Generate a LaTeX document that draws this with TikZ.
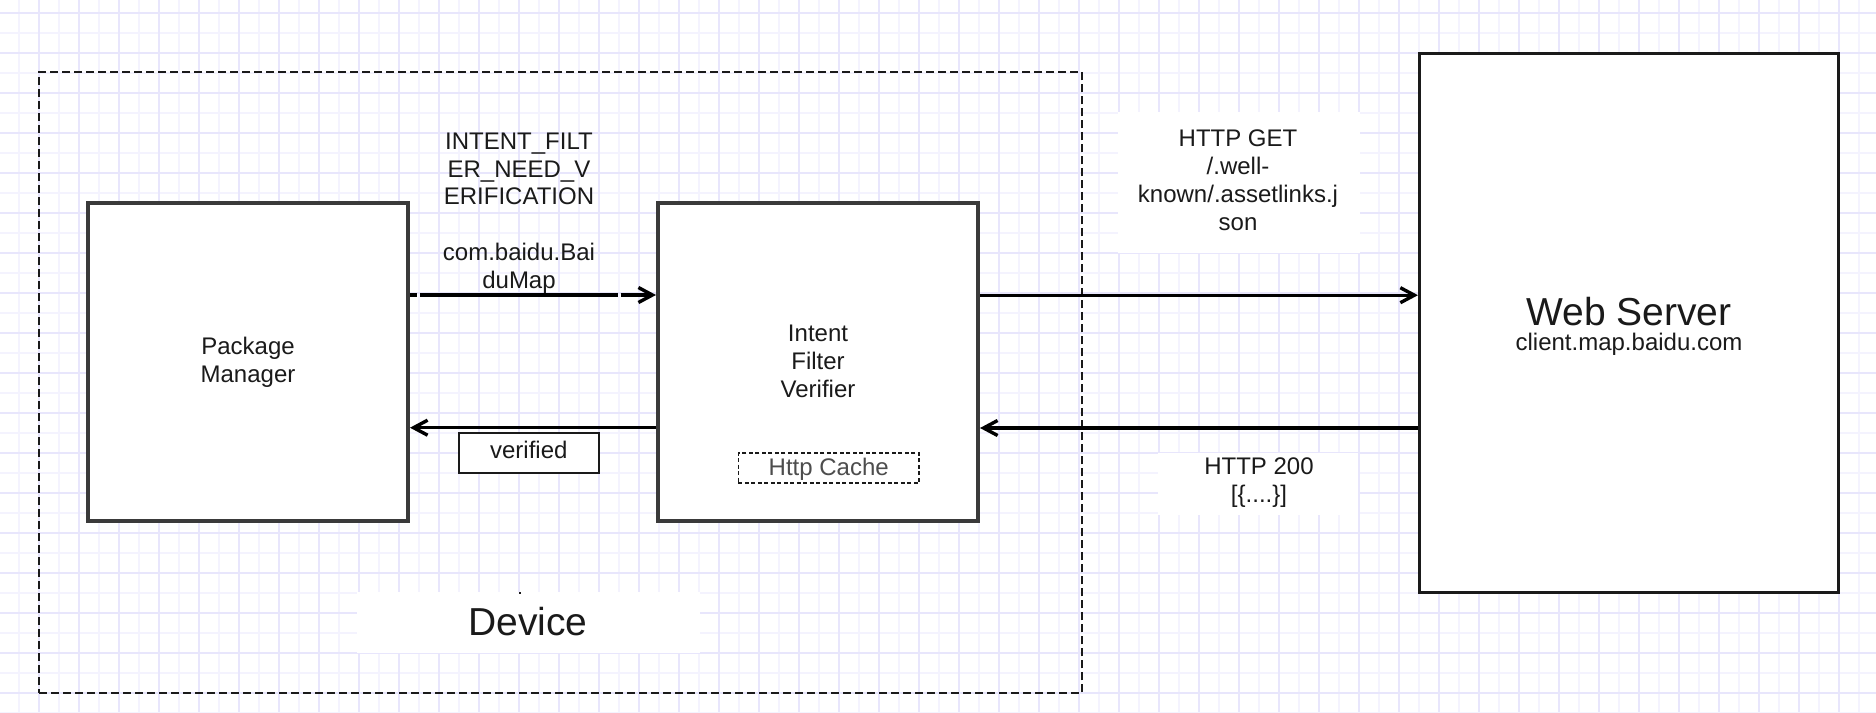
\documentclass[tikz,border=0pt]{standalone}
\usepackage{fontspec}
\setmainfont{Liberation Sans}
\usetikzlibrary{arrows.meta}
\definecolor{gridA}{RGB}{232,230,252}
\definecolor{gridB}{RGB}{244,243,254}
\definecolor{boxline}{RGB}{58,58,58}
\definecolor{ink}{RGB}{26,26,26}
\definecolor{cachetxt}{RGB}{77,77,77}
\begin{document}
\begin{tikzpicture}[x=1pt,y=-1pt,
  bigbox/.style={draw=boxline,line width=4pt,fill=white,inner sep=0pt,
    minimum width=320pt,minimum height=318pt,text=ink,align=center,
    font=\fontsize{24}{28}\selectfont},
  lbl/.style={font=\fontsize{24}{27.8}\selectfont,text=ink,align=center,inner sep=0pt,anchor=base},
  biglbl/.style={font=\fontsize{39}{44}\selectfont,text=ink,inner sep=0pt,anchor=base},
  arr/.style={draw=black,line width=3.4pt,-{Straight Barb[length=14pt,width=15pt]}}]
\useasboundingbox (0,0) rectangle (1876,712);
\fill[white] (0,0) rectangle (1876,712);
% grid
\foreach \k in {0,...,46} {
  \draw[gridB,line width=2pt] ({19+40*\k},0) -- ({19+40*\k},712);
}
\foreach \k in {0,...,17} {
  \draw[gridB,line width=2pt] (0,{32.7+40*\k}) -- (1876,{32.7+40*\k});
}
\foreach \k in {0,...,47} {
  \draw[gridA,line width=2pt] ({-1+40*\k},0) -- ({-1+40*\k},712);
}
\foreach \k in {0,...,17} {
  \draw[gridA,line width=2pt] (0,{12.7+40*\k}) -- (1876,{12.7+40*\k});
}
% device frame
\node[draw=ink,line width=2pt,dash pattern=on 8pt off 4pt,inner sep=0pt,
  minimum width=1043pt,minimum height=621pt] (device) at (560.5,382.8) {};
% white label backgrounds
\fill[white] (1118,112) rectangle (1360,253);
\fill[white] (1158,453) rectangle (1358,515);
\fill[white] (357,592) rectangle (700,653);
\fill[ink] (519,592.3) rectangle (521,594.3);
% boxes
\node[bigbox] (pm) at (248,361.8) {Package\\Manager};
\node[bigbox] (ifv) at (818,361.8) {Intent\\Filter\\Verifier};
\node[draw=ink,line width=2.7pt,fill=white,inner sep=0pt,
  minimum width=419.4pt,minimum height=538.6pt] (ws) at (1629,323) {};
\node[draw=ink,line width=2pt,fill=white,inner sep=0pt,
  minimum width=140.3pt,minimum height=40pt,text=ink,
  font=\fontsize{24}{28}\selectfont,text height=17.5pt,text depth=5pt] (ver) at (528.8,452.7) {verified};
\node[draw=ink,line width=1.6pt,dash pattern=on 4pt off 2.5pt,fill=white,inner sep=0pt,
  minimum width=180.7pt,minimum height=30pt,text=cachetxt,
  font=\fontsize{24}{28}\selectfont,text height=17.5pt,text depth=3.5pt] (cache) at (828.7,468) {Http Cache};
% texts (multi-line nodes: base = last line's baseline)
\node[biglbl] (wst) at (1629,325) {Web Server};
\node[lbl] (wsh) at (1629,350.7) {client.map.baidu.com};
\node[biglbl] (devt) at (528,635) {Device};
\node[lbl] (la) at (519,288.3) {INTENT\_FILT\\ER\_NEED\_V\\ERIFICATION\\ \\com.baidu.Bai\\duMap};
\node[lbl] (lb) at (1238,230) {HTTP GET\\/.well-\\known/.assetlinks.j\\son};
\node[lbl] (lc) at (1259,502) {HTTP 200\\{[\{....\}]}};
% connectors
\draw[arr,dash pattern=on 6.7pt off 3.3pt on 198.3pt off 2.4pt on 400pt]
  ([yshift=66.8pt]pm.east) -- ([yshift=66.8pt]ifv.west);
\draw[arr] ([yshift=-65.9pt]ifv.west) -- ([yshift=-65.9pt]pm.east);
\draw[arr] ([yshift=66.6pt]ifv.east) -- ([yshift=66.6pt]ifv.east -| ws.west);
\draw[arr] ([yshift=-66.2pt]ifv.east -| ws.west) -- ([yshift=-66.2pt]ifv.east);
\end{tikzpicture}
\end{document}
